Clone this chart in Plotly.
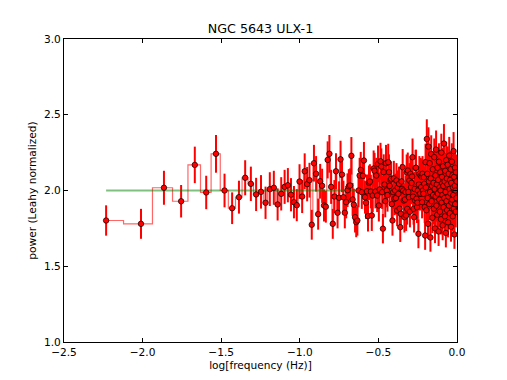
import numpy as np
import plotly.graph_objects as go

# frequency grid of the averaged periodogram
df = 1.0 / 256
n_avg = 324          # segments averaged -> error = P / sqrt(M)
model_level = 2.0    # Poisson level in Leahy normalization

power = [
    1.802, 1.780, 2.018, 1.929, 2.169, 1.987, 2.242, 2.000, 1.883, 1.956,
    2.084, 2.044, 1.974, 1.991, 1.919, 2.009, 2.018, 1.908, 1.978, 2.024,
    2.035, 1.972, 1.923, 1.903, 2.059, 1.960, 2.127, 2.042, 2.068, 1.774,
    2.180, 2.110, 1.844, 2.061, 2.031, 1.901, 1.893, 2.202, 2.242, 2.024,
    1.780, 1.960, 2.127, 1.853, 1.952, 2.206, 2.105,
    1.956, 1.853, 1.923, 2.002, 2.028, 2.033, 2.229, 1.941, 1.906, 1.824,
    1.791, 1.802, 2.000, 2.099, 2.136, 1.989, 2.097, 2.198, 1.956, 1.919,
    1.995, 1.831, 2.051, 2.059, 1.993, 1.835, 1.967, 2.145, 2.130, 1.993,
    2.099, 1.967, 2.176, 1.901, 2.007, 2.193, 2.158, 1.989, 1.748, 2.121,
    2.040, 1.930,
    2.180, 2.000, 1.970, 2.187, 2.121, 2.030, 2.070, 2.077, 1.910, 1.802,
    1.989, 2.080, 1.945, 2.000, 1.950, 2.066, 1.868, 2.020, 1.978, 2.044,
    1.880, 1.758, 1.846, 2.060, 2.011, 2.154, 2.000, 1.934, 1.824, 1.940,
    1.989, 1.835, 2.120, 1.879, 2.132, 1.990, 1.956, 2.066, 1.860, 2.110,
    2.022, 2.050, 2.092, 2.220, 1.960, 1.879, 1.824, 2.010, 1.934, 2.149,
    2.150, 1.945, 1.890, 1.920, 2.000, 1.714, 2.040, 2.110, 1.978, 1.980,
    2.099, 2.022, 2.090, 1.923, 2.110, 2.000, 1.978, 2.088, 2.044, 1.890,
    1.703, 2.187,
    2.02, 1.87, 2.34, 2.11, 1.95, 1.78, 2.29, 2.06, 1.91, 2.18,
    1.99, 1.69, 2.08, 2.24, 1.93, 2.03, 1.82, 2.14, 1.97, 2.05,
    1.88, 2.22, 2.01, 1.75, 2.10, 1.96, 2.27, 1.90, 2.04, 1.84,
    2.15, 1.98, 2.07, 1.73, 2.19, 1.94, 2.02, 1.86, 2.12, 2.00,
    1.81, 2.25, 1.92, 2.09, 1.97, 1.77, 2.16, 2.03, 1.89, 2.31,
    1.95, 2.06, 1.83, 2.13, 1.99, 1.72, 2.20, 1.93, 2.08, 1.87,
    2.04, 2.17, 1.79, 1.96, 2.11, 1.90, 2.23, 2.01, 1.85, 2.07,
    1.98, 2.14, 1.76, 2.05, 1.92, 2.19, 1.94, 2.10, 1.83, 2.02,
    1.97, 2.26, 1.88, 2.09, 1.71, 2.03, 2.15, 1.91, 2.00, 1.86,
    2.12, 1.95, 2.06,
]

x_ticks = [-2.5, -2.0, -1.5, -1.0, -0.5, 0.0]
y_ticks = [1.0, 1.5, 2.0, 2.5, 3.0]

power = np.array(power)
freq = (np.arange(len(power)) + 1.5) * df
logf = np.log10(freq)
err = power / np.sqrt(n_avg)

font = 'DejaVu Sans'

fig = go.Figure()
# steps-mid line
fig.add_trace(go.Scatter(x=logf, y=power, mode='lines', line_shape='hvh',
                         line=dict(color='rgba(255,0,0,0.6)', width=1.2),
                         hoverinfo='skip'))
# error bars
fig.add_trace(go.Scatter(x=logf, y=power, mode='markers',
                         marker=dict(size=1, color='red'),
                         error_y=dict(type='data', array=err, color='red',
                                      thickness=2, width=0)))
# model level
fig.add_trace(go.Scatter(x=[logf[0], logf[-1]], y=[model_level, model_level],
                         mode='lines', line=dict(color='rgba(0,128,0,0.5)', width=2)))
# points
fig.add_trace(go.Scatter(x=logf, y=power, mode='markers',
                         marker=dict(size=5.5, color='red',
                                     line=dict(color='black', width=0.7))))

axis_common = dict(showline=True, linecolor='black', linewidth=1, mirror='ticks',
                   ticks='inside', ticklen=4, tickcolor='black', showgrid=False,
                   zeroline=False, automargin=False,
                   tickfont=dict(family=font, size=10.6, color='black'))

fig.update_layout(
    width=507, height=380,
    margin=dict(l=56, r=58, t=31, b=46),
    paper_bgcolor='white', plot_bgcolor='white',
    showlegend=False,
    title=dict(text='NGC 5643 ULX-1', x=0.498, xanchor='center', y=0.946, yanchor='middle',
               font=dict(family=font, size=12.7, color='black')),
    xaxis=dict(range=[-2.5, 0.0], tickvals=x_ticks, tickformat='.1f',
               title=dict(text='log[frequency (Hz)]', standoff=4,
                          font=dict(family=font, size=10.6, color='black')),
               **axis_common),
    yaxis=dict(range=[1.0, 3.0], tickvals=y_ticks, tickformat='.1f',
               title=dict(text='power (Leahy normalized)', standoff=5,
                          font=dict(family=font, size=10.6, color='black')),
               **axis_common),
)

fig.write_html("out.html")
